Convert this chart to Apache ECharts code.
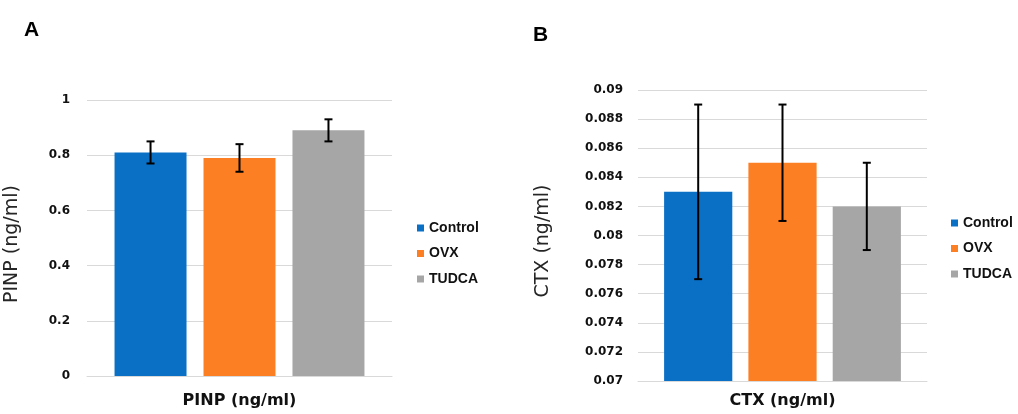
<!DOCTYPE html>
<html>
<head>
<meta charset="utf-8">
<script src="https://cdn.jsdelivr.net/npm/echarts@6/dist/echarts.min.js"></script>
<style>
  html, body { margin: 0; padding: 0; background: #fff; }
  #chart { width: 1018px; height: 414px; }
</style>
</head>
<body>
<div id="chart"></div>
<script>
// ---- Data ----
const groups = ['Control', 'OVX', 'TUDCA'];
const colors = ['#0A70C6', '#FD7F23', '#A6A6A6'];

// Panel A: PINP (ng/ml)
const pinpMean = [0.81, 0.79, 0.89];
const pinpErr  = [0.04, 0.05, 0.04];
const pinpTicks = [0, 0.2, 0.4, 0.6, 0.8, 1];

// Panel B: CTX (ng/ml)
const ctxMean = [0.083, 0.085, 0.082];
const ctxErr  = [0.006, 0.004, 0.003];
const ctxTicks = [0.07, 0.072, 0.074, 0.076, 0.078, 0.08, 0.082, 0.084, 0.086, 0.088, 0.09];

// ---- Style constants ----
const BAR_FRAC = 0.236;   // bar width as fraction of category band
const GAP_FRAC = 0.236;   // gap between bars as fraction of bar width
const FONT = 'DejaVu Sans';

function errData(mean, err) {
  return mean.map((m, i) => [0, m - err[i], m + err[i], i]);
}

function errRender(params, api) {
  const idx = api.value(3);
  const band = api.size([1, 0])[0];
  const bw = band * BAR_FRAC;
  const off = (idx - 1) * bw * (1 + GAP_FRAC);
  const lo = api.coord([api.value(0), api.value(1)]);
  const hi = api.coord([api.value(0), api.value(2)]);
  const x = lo[0] + off;
  const cap = 4;
  const style = { stroke: '#000', lineWidth: 2 };
  return {
    type: 'group',
    children: [
      { type: 'line', shape: { x1: x, y1: lo[1], x2: x, y2: hi[1] }, style },
      { type: 'line', shape: { x1: x - cap, y1: lo[1], x2: x + cap, y2: lo[1] }, style },
      { type: 'line', shape: { x1: x - cap, y1: hi[1], x2: x + cap, y2: hi[1] }, style }
    ]
  };
}

function fmt(v) { return String(parseFloat(v.toFixed(3))); }

const barSeries = [];
groups.forEach((g, i) => {
  barSeries.push({
    name: g, type: 'bar', xAxisIndex: 0, yAxisIndex: 0,
    data: [pinpMean[i]], itemStyle: { color: colors[i] },
    barWidth: (BAR_FRAC * 100) + '%', barGap: (GAP_FRAC * 100) + '%',
    silent: true
  });
});
groups.forEach((g, i) => {
  barSeries.push({
    name: g, type: 'bar', xAxisIndex: 1, yAxisIndex: 1,
    data: [ctxMean[i]], itemStyle: { color: colors[i] },
    barWidth: (BAR_FRAC * 100) + '%', barGap: (GAP_FRAC * 100) + '%',
    silent: true
  });
});
barSeries.push({
  type: 'custom', xAxisIndex: 0, yAxisIndex: 0, z: 5, silent: true,
  renderItem: errRender, data: errData(pinpMean, pinpErr)
});
barSeries.push({
  type: 'custom', xAxisIndex: 1, yAxisIndex: 1, z: 5, silent: true,
  renderItem: errRender, data: errData(ctxMean, ctxErr)
});

function yAxisCfg(gridIndex, ticks, name, nameGap, labelMargin, shift) {
  return {
    type: 'value', gridIndex,
    min: ticks[0], max: ticks[ticks.length - 1],
    interval: parseFloat((ticks[1] - ticks[0]).toFixed(6)),
    name, nameLocation: 'middle', nameGap,
    nameTextStyle: { fontFamily: FONT, fontSize: 19, color: '#262626', padding: [0, shift, 0, 0] },
    axisLine: { show: false }, axisTick: { show: false },
    axisLabel: { fontFamily: FONT, fontSize: 12, fontWeight: 'bold', color: '#111',
                 margin: labelMargin, formatter: fmt },
    splitLine: { lineStyle: { color: '#D9D9D9', width: 1 } }
  };
}
function xAxisCfg(gridIndex, name, gap) {
  return {
    type: 'category', gridIndex, data: [name],
    name, nameLocation: 'middle', nameGap: gap,
    nameTextStyle: { fontFamily: FONT, fontSize: 16, fontWeight: 'bold', color: '#111' },
    axisLine: { lineStyle: { color: '#D9D9D9' } },
    axisTick: { show: false }, axisLabel: { show: false }
  };
}
function legendCfg(left, top) {
  return {
    data: groups, orient: 'vertical', left, top, padding: 0,
    icon: 'rect', itemWidth: 7, itemHeight: 7, itemGap: 11.5,
    selectedMode: false,
    textStyle: { fontFamily: 'Liberation Sans', fontSize: 14, fontWeight: 'bold', color: '#111',
                 lineHeight: 14 }
  };
}

const chart = echarts.init(document.getElementById('chart'));
chart.setOption({
  animation: false,
  backgroundColor: '#fff',
  title: [
    { text: 'A', left: 24, top: 20, padding: 0, textStyle: { fontFamily: 'Liberation Sans', fontSize: 21, fontWeight: 'bold', color: '#000' } },
    { text: 'B', left: 533, top: 25, padding: 0, textStyle: { fontFamily: 'Liberation Sans', fontSize: 21, fontWeight: 'bold', color: '#000' } }
  ],
  grid: [
    { left: 87, top: 100, width: 305, height: 279 },
    { left: 638, top: 90, width: 289, height: 294 }
  ],
  xAxis: [ xAxisCfg(0, 'PINP (ng/ml)', 17), xAxisCfg(1, 'CTX (ng/ml)', 12) ],
  yAxis: [ yAxisCfg(0, pinpTicks, 'PINP (ng/ml)', 65, 17, 12), yAxisCfg(1, ctxTicks, 'CTX (ng/ml)', 85, 15, 11) ],
  legend: [ legendCfg(417, 221), legendCfg(951, 216) ],
  series: barSeries
});
</script>
</body>
</html>
